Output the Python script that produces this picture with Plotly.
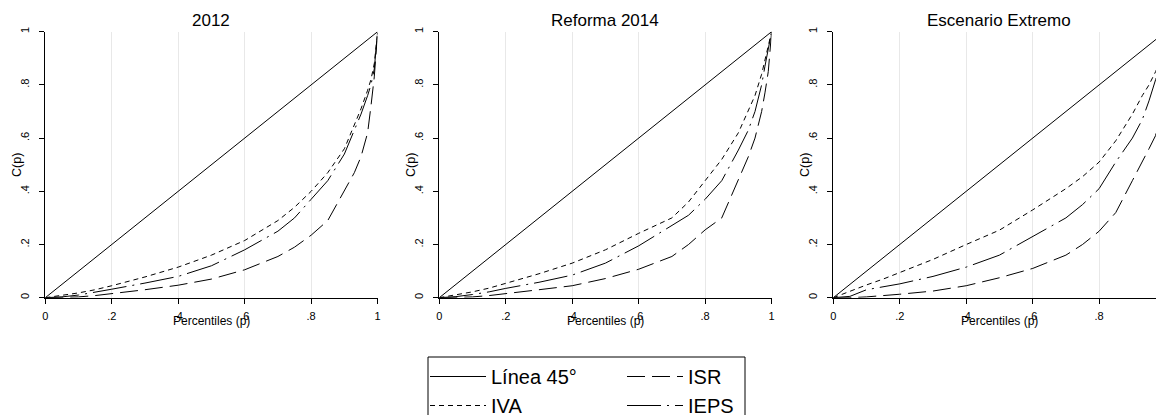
import plotly.graph_objects as go

# Concentration curves C(p) by population percentile, three tax scenarios
percentiles = [0, .05, .1, .15, .2, .3, .4, .5, .6, .7, .75, .8, .85, .9, .93, .95, .97, .98, .99, 1]

scenarios = ["2012", "Reforma 2014", "Escenario Extremo"]

iva_2012 = [0, .008, .018, .03, .045, .078, .115, .16, .215, .29, .34, .40, .47, .56, .65, .71, .78, .82, .88, 1]
ieps_2012 = [0, .003, .01, .02, .032, .055, .08, .12, .18, .25, .30, .37, .44, .54, .63, .69, .76, .80, .86, 1]
isr_2012 = [0, .001, .003, .008, .015, .03, .047, .07, .105, .155, .19, .235, .29, .40, .47, .53, .62, .72, .83, 1]

iva_2014 = [0, .01, .022, .036, .054, .09, .13, .18, .242, .30, .36, .44, .52, .62, .70, .76, .84, .89, .94, 1]
ieps_2014 = [0, .004, .012, .022, .035, .058, .085, .13, .195, .27, .31, .37, .44, .555, .63, .70, .80, .87, .93, 1]
isr_2014 = [0, .001, .003, .008, .016, .03, .045, .072, .107, .155, .20, .255, .30, .44, .53, .60, .70, .77, .85, 1]

iva_ext = [0, .025, .048, .07, .094, .144, .20, .254, .33, .41, .455, .51, .59, .69, .76, .80, .85, .88, .93, 1]
ieps_ext = [0, .005, .03, .042, .052, .08, .115, .16, .23, .30, .35, .41, .51, .60, .67, .74, .82, .86, .92, 1]
isr_ext = [0, 0, .003, .007, .013, .025, .045, .075, .11, .16, .20, .25, .32, .44, .51, .56, .61, .68, .78, 1]

series_by_panel = [
    {"IVA": iva_2012, "IEPS": ieps_2012, "ISR": isr_2012},
    {"IVA": iva_2014, "IEPS": ieps_2014, "ISR": isr_2014},
    {"IVA": iva_ext, "IEPS": ieps_ext, "ISR": isr_ext},
]
diagonal = [0, 1]

tick_vals = [0, .2, .4, .6, .8, 1]
tick_text = ["0", ".2", ".4", ".6", ".8", "1"]

FONT = "Liberation Sans, Arial, Helvetica, sans-serif"
W, H = 1156, 415

styles = {
    "Línea 45°": dict(dash="solid", legend="legend"),
    "IVA": dict(dash="5px,4px", legend="legend"),
    "ISR": dict(dash="18px,7px", legend="legend2"),
    "IEPS": dict(dash="34px,6px,2px,6px", legend="legend2"),
}

# pixel layout of the three panels
panel_left = [45.3, 439.3, 833.3]
panel_w = 332.3
y_bottom, y_top = 297.7, 31.7

fig = go.Figure()

for i, series in enumerate(series_by_panel):
    xa = "x" if i == 0 else f"x{i + 1}"
    ya = "y" if i == 0 else f"y{i + 1}"
    first = i == 0
    fig.add_trace(go.Scatter(
        x=diagonal, y=diagonal, mode="lines", name="Línea 45°",
        line=dict(color="black", width=1, dash=styles["Línea 45°"]["dash"]),
        xaxis=xa, yaxis=ya, showlegend=first, legend="legend"))
    for name in ["IVA", "ISR", "IEPS"]:
        fig.add_trace(go.Scatter(
            x=percentiles, y=series[name], mode="lines", name=name,
            line=dict(color="black", width=1, dash=styles[name]["dash"]),
            xaxis=xa, yaxis=ya, showlegend=first, legend=styles[name]["legend"]))

axis_common = dict(
    showline=True, linecolor="black", linewidth=1,
    ticks="outside", ticklen=5, tickcolor="black", tickwidth=1,
    tickvals=tick_vals, ticktext=tick_text,
    tickfont=dict(family=FONT, size=11, color="black"),
    zeroline=False, automargin=False,
)

y0p = (H - y_bottom) / H
y1p = (H - y_top) / H
layout_axes = {}
for i in range(3):
    sx = "" if i == 0 else str(i + 1)
    left = panel_left[i]
    right = min(left + panel_w, W)
    xmax = (right - left) / panel_w
    layout_axes[f"xaxis{sx}"] = dict(
        axis_common, domain=[left / W, right / W], range=[0, xmax],
        showgrid=True, gridcolor="#e8e8e8", gridwidth=1,
        ticklabelstandoff=3,
        anchor=f"y{sx}", fixedrange=True)
    layout_axes[f"yaxis{sx}"] = dict(
        axis_common, domain=[y0p, y1p], range=[0, 1],
        showgrid=False, tickangle=-90, ticklabelstandoff=6,
        anchor=f"x{sx}", fixedrange=True)

annotations = []
for i, title in enumerate(scenarios):
    sx = "" if i == 0 else str(i + 1)
    annotations.append(dict(
        text=title, x=0.5, xref=f"x{sx}", y=(H - 20) / H, yref="paper",
        showarrow=False, xanchor="center", yanchor="middle",
        font=dict(family=FONT, size=17, color="black")))
    annotations.append(dict(
        text="Percentiles (p)", x=0.5, xref=f"x{sx}", y=(H - 321) / H, yref="paper",
        showarrow=False, xanchor="center", yanchor="middle",
        font=dict(family=FONT, size=12, color="black")))
    annotations.append(dict(
        text="C(p)", x=0, xref=f"x{sx} domain", xshift=-29, y=0.5, yref=f"y{sx} domain",
        showarrow=False, xanchor="center", yanchor="middle", textangle=-90,
        font=dict(family=FONT, size=12.5, color="black")))

legend_font = dict(family=FONT, size=20, color="black")
fig.update_layout(
    width=W, height=H, autosize=False,
    margin=dict(l=0, r=0, t=0, b=0, autoexpand=False),
    paper_bgcolor="white", plot_bgcolor="white",
    annotations=annotations,
    legend=dict(x=425 / W, y=(H - 357) / H, xanchor="left", yanchor="top",
                font=legend_font, bgcolor="rgba(0,0,0,0)", itemwidth=56,
                tracegroupgap=0),
    legend2=dict(x=622 / W, y=(H - 357) / H, xanchor="left", yanchor="top",
                 font=legend_font, bgcolor="rgba(0,0,0,0)", itemwidth=56,
                 tracegroupgap=0),
    shapes=[dict(type="rect", xref="paper", yref="paper",
                 x0=428 / W, x1=745 / W, y0=-0.2, y1=(H - 357) / H,
                 line=dict(color="black", width=1), fillcolor="rgba(0,0,0,0)")],
    **layout_axes,
)

fig.write_html("out.html")
